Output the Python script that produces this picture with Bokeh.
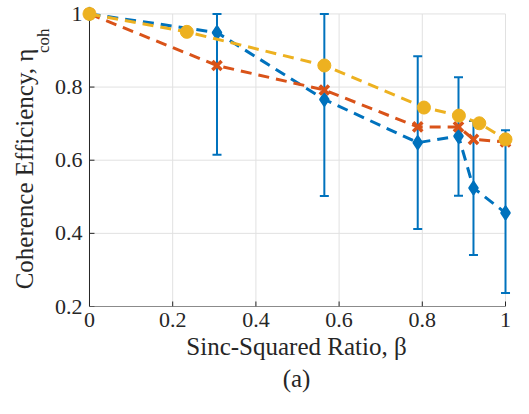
import numpy as np
from bokeh.plotting import figure
from bokeh.models import Range1d, FixedTicker, Title, LinearAxis
from bokeh.embed import file_html
from bokeh.resources import INLINE

# ---- data -------------------------------------------------------------
x_ticks = [0, 0.2, 0.4, 0.6, 0.8, 1.0]
x_tick_labels = ["0", "0.2", "0.4", "0.6", "0.8", "1"]
y_ticks = [0.2, 0.4, 0.6, 0.8, 1.0]
y_tick_labels = ["0.2", "0.4", "0.6", "0.8", "1"]

beta_blue = [0.0, 0.3065, 0.5645, 0.789, 0.887, 0.923, 1.0]
eta_blue = [1.0, 0.949, 0.766, 0.648, 0.666, 0.524, 0.456]
eta_blue_upper = [1.0, 1.0, 1.0, 0.884, 0.827, 0.707, 0.682]
eta_blue_lower = [1.0, 0.615, 0.502, 0.412, 0.503, 0.341, 0.237]

beta_orange = [0.0, 0.3065, 0.5645, 0.789, 0.887, 0.923, 1.0]
eta_orange = [1.0, 0.859, 0.792, 0.691, 0.691, 0.657, 0.650]

beta_yellow = [0.0, 0.234, 0.5645, 0.804, 0.888, 0.937, 1.0]
eta_yellow = [1.0, 0.951, 0.859, 0.744, 0.722, 0.701, 0.657]

# ---- style ------------------------------------------------------------
BLUE = "#0072BD"
ORANGE = "#D95319"
YELLOW = "#EDB120"
AXIS = "#262626"
GRID = "#e1e1e1"
FONT = "Liberation Serif"
TICK_X = 0.012    # inward tick length (data units, x)
TICK_Y = 0.0137   # inward tick length (data units, y)
SUB_Y = 0.960     # vertical place of the label subscript
NBSP = "\u00a0"

p = figure(width=513, height=398,
           x_range=Range1d(-0.024, 1.0192),
           y_range=Range1d(0.2, 1.0203),
           output_backend="svg", toolbar_location=None,
           min_border_left=79, min_border_right=0,
           min_border_top=6, min_border_bottom=92)
p.outline_line_color = None
p.grid.visible = False
p.background_fill_color = "white"
p.border_fill_color = "white"

# grid lines
p.segment(x0=x_ticks, y0=[y_ticks[0]] * len(x_ticks),
          x1=x_ticks, y1=[y_ticks[-1]] * len(x_ticks),
          line_color=GRID, line_width=1)
p.segment(x0=[x_ticks[0]] * len(y_ticks), y0=y_ticks,
          x1=[x_ticks[-1]] * len(y_ticks), y1=y_ticks,
          line_color=GRID, line_width=1)

# axis lines and inward ticks (MATLAB style)
p.segment(x0=[x_ticks[0], x_ticks[0]], y0=[y_ticks[0], y_ticks[0]],
          x1=[x_ticks[0], x_ticks[-1]], y1=[y_ticks[-1], y_ticks[0]],
          line_color=AXIS, line_width=1)
p.segment(x0=x_ticks, y0=[y_ticks[0]] * len(x_ticks),
          x1=x_ticks, y1=[y_ticks[0] + TICK_Y] * len(x_ticks),
          line_color=AXIS, line_width=1)
p.segment(x0=[x_ticks[0]] * len(y_ticks), y0=y_ticks,
          x1=[x_ticks[0] + TICK_X] * len(y_ticks), y1=y_ticks,
          line_color=AXIS, line_width=1)


def style_axis(ax, ticks, labels, size="22px"):
    ax.ticker = FixedTicker(ticks=ticks)
    ax.major_label_overrides = {t: l for t, l in zip(ticks, labels)}
    ax.minor_tick_line_color = None
    ax.major_tick_line_color = None
    ax.major_tick_in = 0
    ax.major_tick_out = 0
    ax.axis_line_color = None
    ax.major_label_text_color = AXIS
    ax.major_label_text_font = FONT
    ax.major_label_text_font_size = size
    ax.axis_label_text_font = FONT
    ax.axis_label_text_font_size = "25px"
    ax.axis_label_text_font_style = "normal"
    ax.axis_label_text_color = AXIS


style_axis(p.xaxis[0], x_ticks, x_tick_labels)
style_axis(p.yaxis[0], y_ticks, y_tick_labels)
p.yaxis[0].major_label_standoff = -3
p.xaxis[0].major_label_standoff = 6
p.xaxis[0].axis_label = "Sinc-Squared Ratio, β"
p.xaxis[0].axis_label_standoff = 3

# y-axis title with its subscript, in a second (label-only) left axis
ylab = LinearAxis()
style_axis(ylab, [SUB_Y], ["coh"], size="17px")
ylab.major_label_orientation = np.pi / 2
ylab.major_label_standoff = 8
ylab.axis_label = "Coherence Efficiency, η" + NBSP * 4
ylab.axis_label_standoff = -16
p.add_layout(ylab, "left")

# caption
p.add_layout(Title(text="(a)", align="center", text_font=FONT,
                   text_font_size="25px", text_font_style="normal",
                   text_color=AXIS, standoff=0, offset=0), "below")

# blue series with error bars
p.segment(x0=beta_blue, y0=eta_blue_lower, x1=beta_blue, y1=eta_blue_upper,
          line_color=BLUE, line_width=2)
p.scatter(beta_blue, eta_blue_upper, marker="dash", size=9,
          line_color=BLUE, line_width=2)
p.scatter(beta_blue, eta_blue_lower, marker="dash", size=9,
          line_color=BLUE, line_width=2)
p.line(beta_blue, eta_blue, line_color=BLUE, line_width=3, line_dash="11 7")
p.scatter(beta_blue, eta_blue, marker="diamond", size=13,
          fill_color=BLUE, line_color=BLUE, line_width=2)

# orange series
p.line(beta_orange, eta_orange, line_color=ORANGE, line_width=3,
       line_dash="11 7")
p.scatter(beta_orange, eta_orange, marker="x", size=13,
          line_color=ORANGE, line_width=3.5)

# yellow series
p.line(beta_yellow, eta_yellow, line_color=YELLOW, line_width=3,
       line_dash="11 7")
p.scatter(beta_yellow, eta_yellow, marker="circle", size=13,
          fill_color=YELLOW, line_color=YELLOW)

open("out.html", "w").write(file_html(p, INLINE))
